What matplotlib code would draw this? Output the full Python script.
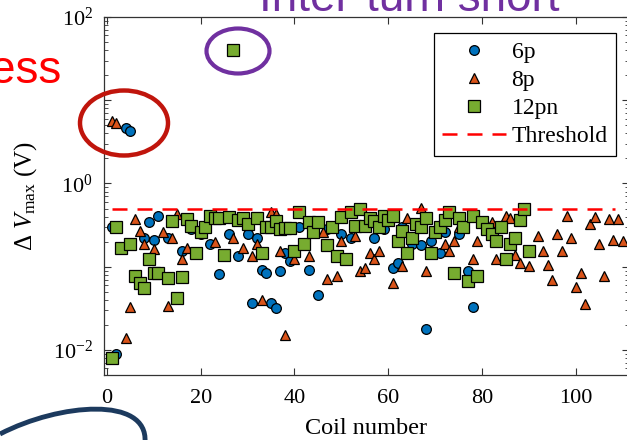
import numpy as np
import matplotlib
matplotlib.use("Agg")
from matplotlib import pyplot as plt
from matplotlib import patches, ticker
from matplotlib.path import Path

plt.rcParams['font.family'] = ['Liberation Serif', 'DejaVu Serif']
plt.rcParams['mathtext.fontset'] = 'custom'
plt.rcParams['mathtext.rm'] = 'Liberation Serif'
plt.rcParams['mathtext.it'] = 'Liberation Serif:italic'

# data (coil number, delta V max in volts)
coil_6p = [1, 2, 4, 5, 8, 9, 10, 11, 13, 16, 18, 20, 22, 24, 26, 28, 30, 31, 32, 33,
           34, 35, 36, 37, 38, 39, 41, 43, 45, 47, 50, 52, 55, 57, 59, 61, 62, 63, 65,
           67, 68, 69, 71, 72, 75, 77, 78]
dv_6p = [0.30, 0.009, 4.7, 4.3, 0.22, 0.34, 0.21, 0.41, 0.22, 0.155, 0.28, 0.25, 0.19,
         0.082, 0.25, 0.135, 0.25, 0.037, 0.22, 0.092, 0.085, 0.037, 0.032, 0.09, 0.147,
         0.118, 0.30, 0.092, 0.046, 0.28, 0.25, 0.22, 0.30, 0.22, 0.28, 0.097, 0.11,
         0.30, 0.19, 0.18, 0.018, 0.206, 0.147, 0.26, 0.25, 0.089, 0.033]

coil_8p = [1, 2, 4, 5, 6, 7, 8, 10, 12, 13, 14, 15, 16, 17, 23, 27, 29, 31, 32, 33,
           35, 36, 37, 38, 40, 43, 46, 47, 49, 50, 53, 54, 55, 56, 57, 58, 61, 63, 64,
           67, 68, 72, 73, 74, 75, 78, 79, 82, 83, 85, 86, 87, 88, 90, 92, 93, 94, 95,
           96, 97, 98, 99, 100, 101, 102, 103, 104, 105, 106, 107, 108, 109, 110]
dv_8p = [5.6, 5.4, 0.014, 0.033, 0.37, 0.27, 0.19, 0.165, 0.26, 0.034, 0.22, 0.43,
         0.125, 0.17, 0.20, 0.22, 0.17, 0.135, 0.19, 0.04, 0.45, 0.43, 0.155, 0.0152,
         0.125, 0.135, 0.26, 0.072, 0.078, 0.206, 0.236, 0.089, 0.097, 0.147, 0.125,
         0.155, 0.064, 0.103, 0.38, 0.51, 0.089, 0.19, 0.155, 0.206, 0.30, 0.125,
         0.206, 0.34, 0.125, 0.41, 0.38, 0.14, 0.11, 0.103, 0.236, 0.155, 0.106, 0.07,
         0.25, 0.155, 0.41, 0.22, 0.057, 0.085, 0.036, 0.33, 0.40, 0.19, 0.078, 0.37,
         0.21, 0.37, 0.206]

coil_12pn = [1, 2, 3, 5, 6, 7, 8, 9, 10, 11, 13, 14, 15, 16, 17, 18, 19, 20, 21, 22,
             23, 24, 25, 26, 27, 28, 29, 30, 32, 33, 34, 35, 36, 37, 38, 39, 40, 41,
             42, 43, 44, 45, 47, 48, 49, 50, 51, 52, 53, 54, 55, 56, 57, 58, 59, 60,
             61, 62, 63, 64, 65, 66, 67, 68, 69, 70, 71, 72, 73, 74, 75, 76, 77, 78,
             79, 80, 81, 82, 83, 84, 85, 86, 87, 88, 89, 90]
dv_12pn = [0.008, 0.30, 0.17, 0.19, 0.078, 0.064, 0.056, 0.125, 0.083, 0.083, 0.074,
           0.35, 0.042, 0.076, 0.37, 0.31, 0.147, 0.26, 0.30, 0.41, 0.39, 0.39, 0.14,
           0.40, 40.0, 0.36, 0.38, 0.33, 0.39, 0.147, 0.30, 0.30, 0.35, 0.28, 0.29,
           0.29, 0.155, 0.45, 0.19, 0.34, 0.26, 0.34, 0.18, 0.30, 0.135, 0.40, 0.125,
           0.45, 0.31, 0.50, 0.31, 0.39, 0.35, 0.30, 0.41, 0.36, 0.41, 0.205, 0.27,
           0.147, 0.22, 0.33, 0.30, 0.39, 0.147, 0.26, 0.30, 0.36, 0.45, 0.085, 0.38,
           0.30, 0.068, 0.41, 0.078, 0.34, 0.28, 0.25, 0.206, 0.30, 0.125, 0.19, 0.22,
           0.36, 0.50, 0.155]

threshold_x = [1, 108.3]
threshold_v = [0.5, 0.5]

W, H = 627, 440
fig = plt.figure(figsize=(W / 100, H / 100), dpi=100)
ax = fig.add_axes([104 / W, 65 / H, 524.5 / W, 358 / H])

mk = dict(linestyle='none', markeredgecolor='black', markeredgewidth=0.9)
ax.plot(coil_6p, dv_6p, marker='o', markersize=7, markerfacecolor='#0072BD', label='6p', **mk)
ax.plot(coil_8p, dv_8p, marker='^', markersize=7.4, markerfacecolor='#D95319', label='8p', **mk)
ax.plot(coil_12pn, dv_12pn, marker='s', markersize=8.1, markerfacecolor='#77AC30', label='12pn', **mk)
ax.plot(threshold_x, threshold_v, color='#ff0000', lw=1.8, dashes=(6, 4), label='Threshold')

ax.set_yscale('log')
ax.set_xlim(-0.6, 111.2)
ax.set_ylim(0.005, 100)
ax.set_xticks([0, 20, 40, 60, 80, 100])
ax.yaxis.set_major_locator(ticker.FixedLocator([1e-2, 1e-1, 1, 10, 100]))
ax.yaxis.set_major_formatter(ticker.FixedFormatter(['$10^{-2}$', '', '$10^{0}$', '', '$10^{2}$']))
ax.yaxis.set_minor_locator(ticker.LogLocator(base=10, subs=np.arange(2, 10), numticks=20))
ax.yaxis.set_minor_formatter(ticker.NullFormatter())
ax.tick_params(which='both', direction='in', top=True, right=True, color='#333333')
ax.tick_params(which='major', length=5, width=0.8, labelsize=16)
ax.tick_params(which='minor', length=3, width=0.6)
ax.tick_params(axis='x', pad=10)
ax.tick_params(axis='y', pad=8)
for s in ax.spines.values():
    s.set_color('#333333')
    s.set_linewidth(0.9)

ax.set_xlabel('Coil number', fontsize=17.5, labelpad=7)
ax.set_ylabel(r'$\Delta\ V_{\rm max}$ (V)', fontsize=18, labelpad=10)

leg = ax.legend(loc='upper right', bbox_to_anchor=(0.976, 0.955), borderaxespad=0,
                fontsize=17, labelspacing=0.28, handlelength=2.7, handletextpad=0.25,
                borderpad=0.35, fancybox=False, edgecolor='black', framealpha=1)
leg.get_frame().set_linewidth(0.9)

# slide annotations around the chart
fig.text(61 / W, 1 - 83 / H, 'ess', color='#ff0000', fontsize=33,
         family=['Liberation Sans', 'DejaVu Sans'], ha='right', va='baseline')
fig.text(409 / W, 1 - 11 / H, 'Inter-turn short', color='#7030a0', fontsize=33,
         family=['Liberation Sans', 'DejaVu Sans'], ha='center', va='baseline')

fig.patches.append(patches.Ellipse((124 / W, 1 - 123 / H), 88 / W, 65 / H, fill=False,
                                   ec='#c0150c', lw=3.2, transform=fig.transFigure))
fig.patches.append(patches.Ellipse((238 / W, 1 - 51 / H), 63 / W, 45 / H, fill=False,
                                   ec='#7030a0', lw=3, transform=fig.transFigure))

arc_pts = [(0, 434), (60, 403), (148, 396), (145, 442)]
arc = Path([(x / W, 1 - y / H) for x, y in arc_pts],
           [Path.MOVETO, Path.CURVE4, Path.CURVE4, Path.CURVE4])
fig.patches.append(patches.PathPatch(arc, fill=False, ec='#1c3a5e', lw=3.5,
                                     transform=fig.transFigure))

fig.savefig('out.png', dpi=100)
